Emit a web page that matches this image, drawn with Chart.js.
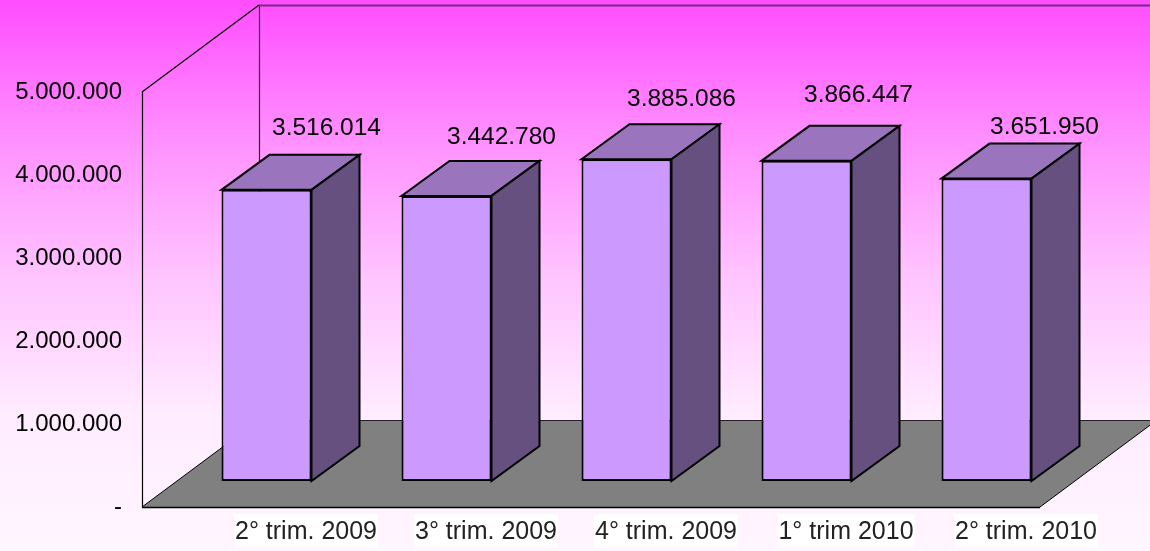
<!DOCTYPE html>
<html>
<head>
<meta charset="utf-8">
<script src="https://cdn.jsdelivr.net/npm/chart.js@4"></script>
<style>
    html, body { margin: 0; padding: 0; }
    body { width: 1150px; height: 551px; overflow: hidden; background: linear-gradient(to bottom, #ff4dff 0%, #ff8fff 25%, #ffc4ff 50%, #ffecff 75%, #fff6ff 100%); }
    canvas { display: block; }
</style>
</head>
<body>
<canvas id="chart" width="1150" height="551"></canvas>
<script>
const categories = ["2° trim. 2009", "3° trim. 2009", "4° trim. 2009", "1° trim 2010", "2° trim. 2010"];
const values = [3516014, 3442780, 3885086, 3866447, 3651950];
const yTicks = [0, 1000000, 2000000, 3000000, 4000000, 5000000];

const fontName = "'Liberation Sans', Arial, sans-serif";
const depthX = 48, depthY = 35;         // side of a bar
const wallX = 117, wallY = 87;          // side of the chart box
const floorLeft = 142, floorRight = 1040;
const xLabelOffset = 39.5;
// hand placed labels in the original
const labelShift = [[4, -1], [-1, 2], [-1, 1], [-4, -5], [2, 10]];

function formatNumber(v) {
    if (v === 0) return "-";
    return String(v).replace(/\B(?=(\d{3})+$)/g, ".");
}

function poly(ctx, points, fill, stroke, width) {
    ctx.beginPath();
    points.forEach((p, i) => i ? ctx.lineTo(p[0], p[1]) : ctx.moveTo(p[0], p[1]));
    ctx.closePath();
    if (fill) { ctx.fillStyle = fill; ctx.fill(); }
    if (stroke) { ctx.strokeStyle = stroke; ctx.lineWidth = width; ctx.lineJoin = "miter"; ctx.stroke(); }
}

function line(ctx, x1, y1, x2, y2, color, width) {
    ctx.beginPath();
    ctx.moveTo(x1, y1);
    ctx.lineTo(x2, y2);
    ctx.strokeStyle = color;
    ctx.lineWidth = width;
    ctx.stroke();
}

const box3d = {
    id: "box3d",
    beforeDraw(chart) {
        // white boxes behind the category labels
        let ctx = chart.ctx, x = chart.scales.x;
        ctx.save();
        ctx.font = "25px " + fontName;
        ctx.fillStyle = "#ffffff";
        categories.forEach((c, i) => {
            let w = ctx.measureText(c).width + 2;
            ctx.fillRect(x.getPixelForTick(i) + xLabelOffset - w / 2, 514, w, 34);
        });
        ctx.restore();
    },
    beforeDatasetsDraw(chart) {
        let ctx = chart.ctx, y = chart.scales.y;
        let bottom = y.getPixelForValue(0), top = y.getPixelForValue(5000000);
        ctx.save();
        poly(ctx, [[floorLeft, bottom], [floorRight, bottom], [floorRight + wallX, bottom - wallY], [floorLeft + wallX, bottom - wallY]], "#808080", null);
        line(ctx, floorLeft + wallX, bottom - wallY + 0.5, 1150, bottom - wallY + 0.5, "#222", 1);
        line(ctx, floorLeft, bottom + 0.5, floorRight, bottom + 0.5, "#000", 1.5);
        line(ctx, floorLeft, bottom, floorLeft + wallX, bottom - wallY, "#000", 1);
        line(ctx, floorRight, bottom, floorRight + wallX, bottom - wallY, "#000", 1);
        line(ctx, floorLeft + 0.5, top, floorLeft + 0.5, bottom, "#000", 1.2);
        line(ctx, floorLeft, top, floorLeft + wallX, top - wallY, "#000", 1.2);
        line(ctx, floorLeft + wallX + 0.5, top - wallY, floorLeft + wallX + 0.5, bottom - wallY, "#222", 1.2);
        line(ctx, floorLeft + wallX, top - wallY + 0.5, 1150, top - wallY + 0.5, "#7a2a80", 2);
        ctx.restore();
    },
    afterDatasetsDraw(chart) {
        let ctx = chart.ctx;
        let bars = chart.getDatasetMeta(0).data;
        ctx.save();
        bars.forEach((bar, i) => {
            let left = bar.x - bar.width / 2, right = bar.x + bar.width / 2;
            poly(ctx, [[left, bar.y], [right, bar.y], [right + depthX, bar.y - depthY], [left + depthX, bar.y - depthY]], "#9a75bd", "#000", 2);
            poly(ctx, [[right, bar.y], [right + depthX, bar.y - depthY], [right + depthX, bar.base - depthY], [right, bar.base]], "#65507f", "#000", 2);
            ctx.font = "24.5px " + fontName;
            ctx.fillStyle = "#000";
            ctx.textAlign = "center";
            ctx.textBaseline = "middle";
            ctx.fillText(formatNumber(values[i]), bar.x + 56 + labelShift[i][0], bar.y - 61 + labelShift[i][1]);
        });
        ctx.restore();
    }
};

new Chart(document.getElementById("chart").getContext("2d"), {
    type: "bar",
    plugins: [box3d],
    data: {
        labels: categories,
        datasets: [{
            data: values,
            yAxisID: "yBars",
            backgroundColor: "#cc99ff",
            borderColor: "#000",
            borderWidth: 2,
            borderSkipped: false,
            barPercentage: 0.5,
            categoryPercentage: 1
        }]
    },
    options: {
        responsive: false,
        animation: false,
        layout: { padding: { top: 92, right: 73.5, left: 0, bottom: 0 } },
        plugins: { legend: { display: false }, tooltip: { enabled: false } },
        scales: {
            x: {
                grid: { display: false, drawTicks: false },
                border: { display: false },
                afterFit(scale) { scale.height = 44; },
                ticks: {
                    color: "#222",
                    maxRotation: 0,
                    autoSkip: false,
                    labelOffset: xLabelOffset,
                    padding: 10,
                    font: { family: fontName, size: 25 }
                }
            },
            y: {
                min: 0,
                max: 5000000,
                grid: { display: false, drawTicks: false },
                border: { display: false },
                afterFit(scale) {
                    scale.width = 176.5;
                    // tick padding also counts as vertical padding, drop that
                    scale.paddingTop = 0;
                    scale.paddingBottom = 0;
                },
                afterBuildTicks(scale) { scale.ticks = yTicks.map(v => ({ value: v })); },
                ticks: {
                    color: "#000",
                    padding: 54.5,
                    font: { family: fontName, size: 24 },
                    callback: v => formatNumber(v)
                }
            },
            // bars stand further back on the floor than the front axis
            yBars: {
                display: false,
                min: -314100,
                max: 4697900
            }
        }
    }
});
</script>
</body>
</html>
